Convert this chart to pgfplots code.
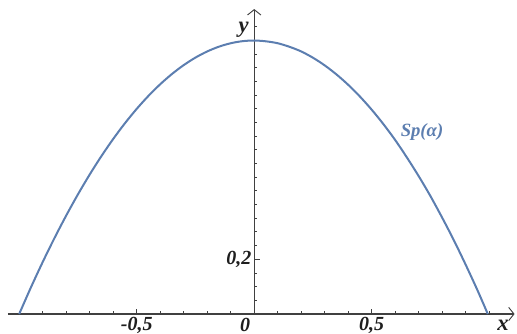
\documentclass[border=0pt]{standalone}
\usepackage{pgfplots}
\pgfplotsset{compat=1.18}
\usepackage{fontspec}
\setmainfont{Liberation Serif}
\usetikzlibrary{arrows.meta}
\definecolor{curveblue}{RGB}{92,126,176}
\definecolor{axisgray}{RGB}{64,64,64}
\definecolor{labelblack}{RGB}{30,30,30}
\begin{document}
\begin{tikzpicture}
\begin{axis}[
  x=176.25pt, y=205.125pt,
  axis lines=middle,
  xmin=-1.048, xmax=1.108, ymin=0, ymax=1.115,
  axis line style={axisgray, line width=0.9pt,
    -{Straight Barb[length=4pt,width=10pt,line width=0.7pt]}},
  xtick={-0.5,0.5}, xticklabels={-0{,}5, 0{,}5},
  ytick={0.2}, yticklabels={0{,}2},
  minor xtick={-1,-0.9,...,1},
  minor ytick={0.05,0.1,...,1.06},
  tick align=inside,
  major tick length=4pt, minor tick length=2.2pt,
  tick style={axisgray, line width=0.7pt},
  ticklabel style={font=\fontsize{15}{17}\selectfont\bfseries\itshape, text=labelblack},
  xticklabel style={anchor=north, yshift=1.5pt},
  yticklabel style={anchor=east, xshift=1.5pt},
  clip=false,
]
% Sp(alpha) curve
\addplot[curveblue, line width=1.5pt, smooth] coordinates {
  (-1.0,0) (-0.95,0.0975) (-0.9,0.19) (-0.85,0.2775) (-0.8,0.36)
  (-0.75,0.4375) (-0.7,0.51) (-0.65,0.5775) (-0.6,0.64) (-0.55,0.6975)
  (-0.5,0.75) (-0.45,0.7975) (-0.4,0.84) (-0.35,0.8775) (-0.3,0.91)
  (-0.25,0.9375) (-0.2,0.96) (-0.15,0.9775) (-0.1,0.99) (-0.05,0.9975)
  (0,1.0) (0.05,0.997) (0.1,0.990) (0.15,0.977) (0.2,0.960)
  (0.25,0.937) (0.3,0.909) (0.35,0.876) (0.4,0.838) (0.45,0.795)
  (0.5,0.747) (0.55,0.694) (0.6,0.636) (0.65,0.572) (0.7,0.504)
  (0.75,0.431) (0.8,0.352) (0.85,0.269) (0.9,0.180) (0.95,0.087)
  (0.994,0)
};
% axis names and the origin label
\node[font=\fontsize{17}{19}\selectfont\bfseries\itshape, text=labelblack]
  at (axis cs:-0.045,1.04) {y};
\node[font=\fontsize{17}{19}\selectfont\bfseries\itshape, text=labelblack]
  at (axis cs:1.059,-0.042) {x};
\node[anchor=east, inner sep=0pt, font=\fontsize{15}{17}\selectfont\bfseries\itshape, text=labelblack]
  at (axis cs:-0.016,-0.039) {0};
\node[font=\fontsize{14}{16}\selectfont\bfseries\itshape, text=curveblue]
  at (axis cs:0.714,0.665) {Sp(α)};
% frame of the picture
\coordinate (bl) at (axis cs:-1.0817,-0.0731);
\coordinate (tr) at (axis cs:1.1183,1.1481);
\end{axis}
\pgfresetboundingbox
\path[use as bounding box] (bl) rectangle (tr);
\end{tikzpicture}
\end{document}
